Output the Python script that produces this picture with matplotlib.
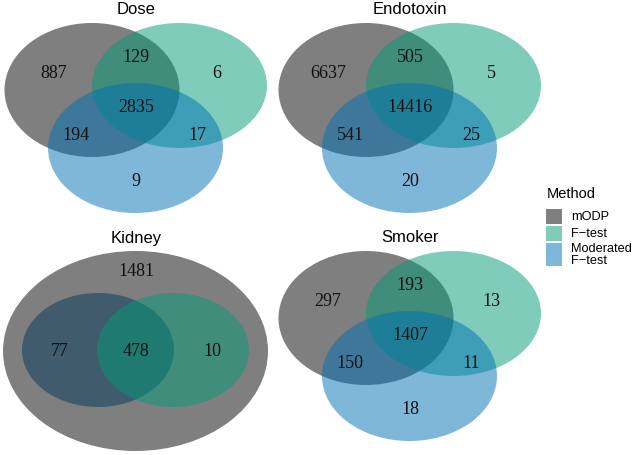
import matplotlib
matplotlib.use("Agg")
import matplotlib.pyplot as plt
from matplotlib.patches import Ellipse, Rectangle

# ---------------- data ----------------
methods = ["mODP", "F\u2212test", "Moderated\nF\u2212test"]
method_colors = ["#000000", "#009b77", "#0071b5"]

panel_titles = ["Dose", "Endotoxin", "Smoker"]
# region order: mODP only, mODP&F, F only, all three, mODP&Mod, F&Mod, Mod only
dose_counts = [887, 129, 6, 2835, 194, 17, 9]
endotoxin_counts = [6637, 505, 5, 14416, 541, 25, 20]
smoker_counts = [297, 193, 13, 1407, 150, 11, 18]

kidney_title = "Kidney"
# region order: mODP only, Mod&mODP, all three, F&mODP
kidney_counts = [1481, 77, 478, 10]

# ---------------- layout ----------------
W, H = 633, 455
fig = plt.figure(figsize=(W / 100, H / 100), dpi=100)
ax = fig.add_axes([0, 0, 1, 1])
ax.set_xlim(0, W)
ax.set_ylim(H, 0)
ax.axis("off")

ALPHA = 0.5
num_font = dict(family="Liberation Serif", fontsize=13, color="#111111",
                ha="center", va="center")
title_font = dict(family="Liberation Sans", fontsize=12, color="black",
                  ha="center", va="center")

# three-set geometry (local coords), ellipses: (cx, cy, w, h)
tri_ellipses = [(92, 90, 175, 134), (179.5, 85.5, 175, 125), (135.5, 148, 175, 130)]
tri_labels = [(54, 74), (136, 57), (217, 74), (136, 108), (76, 136), (197, 136), (136, 181)]
tri_title = (136, 10)

panels = [(panel_titles[0], dose_counts, (0, 0)),
          (panel_titles[1], endotoxin_counts, (274, 0)),
          (panel_titles[2], smoker_counts, (274, 228))]

for title, counts, (ox, oy) in panels:
    for (cx, cy, w, h), col in zip(tri_ellipses, method_colors):
        ax.add_patch(Ellipse((ox + cx, oy + cy), w, h, facecolor=col,
                             alpha=ALPHA, edgecolor="none"))
    for (lx, ly), c in zip(tri_labels, counts):
        ax.text(ox + lx, oy + ly, str(c), **num_font)
    ax.text(ox + tri_title[0], oy + tri_title[1], title, **title_font)

# Kidney panel: blue drawn, then gray, then green
kid_gray = (135.5, 351, 265, 200)
kid_blue = (98, 350, 152, 114)
kid_green = (173, 350, 152, 114)
for (cx, cy, w, h), col in [(kid_blue, method_colors[2]),
                            (kid_gray, method_colors[0]),
                            (kid_green, method_colors[1])]:
    ax.add_patch(Ellipse((cx, cy), w, h, facecolor=col, alpha=ALPHA,
                         edgecolor="none"))
kid_label_pos = [(136, 272), (60, 351), (136, 351), (212, 351)]
for (lx, ly), c in zip(kid_label_pos, kidney_counts):
    ax.text(lx, ly, str(c), **num_font)
ax.text(136, 238, kidney_title, **title_font)

# legend
ax.text(547, 194, "Method", family="Liberation Sans", fontsize=10.5,
        ha="left", va="center")
key_boxes = [(209, 15), (226, 15), (243, 23)]
for (y0, hh), col, lab in zip(key_boxes, method_colors, methods):
    ax.add_patch(Rectangle((546, y0), 16, hh, facecolor=col, alpha=ALPHA,
                           edgecolor="none"))
    ax.text(571, y0 + hh / 2 + 0.5, lab, family="Liberation Sans", fontsize=9.2,
            ha="left", va="center", linespacing=1.08)

fig.savefig("out.png", dpi=100)
